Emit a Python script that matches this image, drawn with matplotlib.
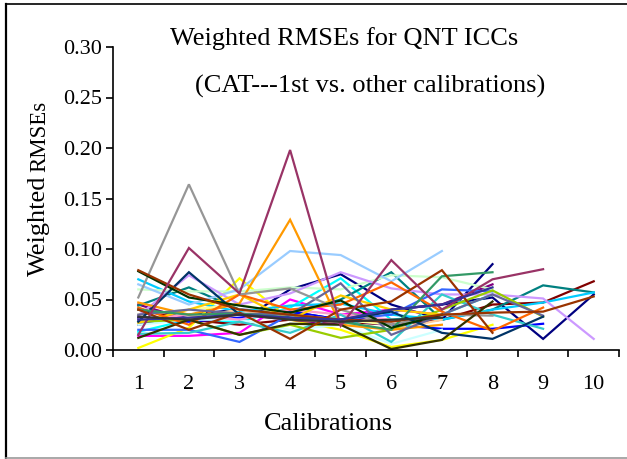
import matplotlib
matplotlib.use("Agg")
import matplotlib.pyplot as plt
from matplotlib.lines import Line2D

calibrations = [1, 2, 3, 4, 5, 6, 7, 8, 9, 10]
x_labels = ["1", "2", "3", "4", "5", "6", "7", "8", "9", "10"]
y_ticks = [0.00, 0.05, 0.10, 0.15, 0.20, 0.25, 0.30]

# one list per item (series); lengths vary
s_navy_a = [0.032, 0.030, 0.028, 0.060, 0.075, 0.045, 0.030, 0.085]
s_navy_b = [0.025, 0.035, 0.040, 0.038, 0.030, 0.040, 0.045, 0.052, 0.011, 0.055]
s_magenta = [0.014, 0.014, 0.017, 0.050, 0.035, 0.040, 0.035]
s_yellow = [0.002, 0.022, 0.071, 0.030, 0.020, 0.003, 0.010, 0.025]
s_cyan = [0.018, 0.030, 0.028, 0.042, 0.071, 0.030, 0.035, 0.055]
s_purple = [0.045, 0.030, 0.035, 0.030, 0.025, 0.040, 0.045, 0.065]
s_darkred = [0.040, 0.030, 0.025, 0.030, 0.028, 0.025, 0.030, 0.045, 0.047, 0.068]
s_teal = [0.044, 0.062, 0.040, 0.035, 0.050, 0.077, 0.030, 0.040, 0.064, 0.057]
s_blue = [0.030, 0.028, 0.032, 0.038, 0.030, 0.025, 0.021, 0.021, 0.026]
s_skyblue = [0.070, 0.048, 0.038, 0.044, 0.046, 0.035, 0.030, 0.040, 0.047, 0.057]
s_palecyan = [0.025, 0.030, 0.030, 0.020, 0.025, 0.006, 0.020]
s_palegreen = [0.060, 0.058, 0.058, 0.062, 0.060, 0.074, 0.072, 0.060]
s_paleyellow = [0.035, 0.040, 0.045, 0.035, 0.030, 0.025]
s_lightblue = [0.065, 0.045, 0.060, 0.098, 0.094, 0.068, 0.098]
s_pink = [0.030, 0.035, 0.030, 0.040, 0.035, 0.030]
s_lavender = [0.034, 0.074, 0.045, 0.056, 0.077, 0.061, 0.055, 0.055, 0.051, 0.011]
s_tan = [0.028, 0.032, 0.040, 0.030, 0.028, 0.020, 0.030]
s_royal = [0.020, 0.020, 0.008, 0.035, 0.030, 0.035, 0.060, 0.058]
s_aqua = [0.016, 0.017, 0.028, 0.017, 0.035, 0.008, 0.055, 0.035, 0.021]
s_lime = [0.028, 0.030, 0.015, 0.025, 0.012, 0.020, 0.040, 0.059, 0.033]
s_gold = [0.027, 0.040, 0.055, 0.030, 0.054, 0.040, 0.035]
s_orange = [0.047, 0.035, 0.046, 0.129, 0.025, 0.020, 0.025]
s_darkorange = [0.042, 0.025, 0.055, 0.040, 0.045, 0.067, 0.038, 0.019, 0.042]
s_bluegray = [0.035, 0.040, 0.036, 0.035, 0.066, 0.015, 0.035, 0.055, 0.034]
s_gray = [0.052, 0.164, 0.055, 0.061, 0.040, 0.025, 0.035, 0.034]
s_darkteal = [0.028, 0.077, 0.035, 0.032, 0.030, 0.038, 0.017, 0.011, 0.033]
s_seagreen = [0.040, 0.035, 0.036, 0.032, 0.028, 0.020, 0.073, 0.077]
s_darkgreen = [0.078, 0.052, 0.044, 0.037, 0.049, 0.022, 0.035]
s_olive = [0.012, 0.030, 0.015, 0.026, 0.025, 0.001, 0.010, 0.048]
s_brown_a = [0.040, 0.020, 0.037, 0.011, 0.040, 0.048, 0.079, 0.017]
s_brown_b = [0.079, 0.055, 0.040, 0.035, 0.030, 0.028, 0.035, 0.037, 0.038, 0.053]
s_plum = [0.015, 0.101, 0.056, 0.198, 0.024, 0.089, 0.040, 0.070, 0.080]
s_indigo = [0.030, 0.032, 0.035, 0.032, 0.030, 0.040, 0.045, 0.062]
s_charcoal = [0.033, 0.030, 0.035, 0.030, 0.028, 0.030, 0.032]

series = [
    (s_navy_a, "#000080"), (s_navy_b, "#000080"), (s_magenta, "#FF00FF"),
    (s_yellow, "#FFFF00"), (s_cyan, "#00FFFF"), (s_purple, "#800080"),
    (s_darkred, "#800000"), (s_teal, "#008080"), (s_blue, "#0000FF"),
    (s_skyblue, "#00CCFF"), (s_palecyan, "#CCFFFF"), (s_palegreen, "#CCFFCC"),
    (s_paleyellow, "#FFFF99"), (s_lightblue, "#99CCFF"), (s_pink, "#FF99CC"),
    (s_lavender, "#CC99FF"), (s_tan, "#FFCC99"), (s_royal, "#3366FF"),
    (s_aqua, "#33CCCC"), (s_lime, "#99CC00"), (s_gold, "#FFCC00"),
    (s_orange, "#FF9900"), (s_darkorange, "#FF6600"), (s_bluegray, "#666699"),
    (s_gray, "#969696"), (s_darkteal, "#003366"), (s_seagreen, "#339966"),
    (s_darkgreen, "#003300"), (s_olive, "#333300"), (s_brown_a, "#993300"),
    (s_brown_b, "#993300"), (s_plum, "#993366"), (s_indigo, "#333399"),
    (s_charcoal, "#333333"),
]

SERIF = ["Liberation Serif", "DejaVu Serif"]
W, H = 627, 459
fig = plt.figure(figsize=(W / 100, H / 100), dpi=100)
fig.patch.set_facecolor("white")

ax = fig.add_axes([113 / W, 1 - 350 / H, (619 - 113) / W, (350 - 47) / H])
for vals, col in series:
    ax.plot(calibrations[:len(vals)], vals, color=col, lw=1.6, solid_joinstyle="miter")

ax.set_xlim(0.5, 10.5)
ax.set_ylim(0, 0.30)
ax.set_yticks(y_ticks)
ax.set_yticklabels([f"{v:.2f}" for v in y_ticks], fontfamily=SERIF, fontsize=16)
ax.set_xticks([i + 0.5 for i in range(0, 11)])
ax.set_xticklabels([])
ax.set_xticks(calibrations, minor=True)
ax.set_xticklabels(x_labels, minor=True, fontfamily=SERIF, fontsize=16)
ax.tick_params(axis="x", which="minor", length=0, pad=18)
ax.tick_params(axis="x", which="major", length=5, width=1.2, direction="out")
ax.tick_params(axis="y", length=5, width=1.2, direction="out", pad=3)
for side in ("top", "right"):
    ax.spines[side].set_visible(False)
for side in ("left", "bottom"):
    ax.spines[side].set_linewidth(1.2)
    ax.spines[side].set_color("black")

# titles and labels
fig.text(344 / W, 1 - 45 / H, "Weighted RMSEs for QNT ICCs", fontfamily=SERIF,
         fontsize=19, ha="center", va="baseline")
fig.text(370 / W, 1 - 93 / H, "(CAT---1st vs. other calibrations)", fontfamily=SERIF,
         fontsize=19, ha="center", va="baseline")
fig.text(328 / W, 1 - 430 / H, "Calibrations", fontfamily=SERIF,
         fontsize=19, ha="center", va="baseline")
fig.text(45 / W, 1 - 226 / H, "Weighted", fontfamily=SERIF, fontsize=19,
         rotation=90, rotation_mode="anchor", ha="center", va="baseline")
fig.text(45 / W, 1 - 136 / H, "RMSEs", fontfamily=SERIF, fontsize=16.5,
         rotation=90, rotation_mode="anchor", ha="center", va="baseline")

# figure border (left, top dark; bottom gray)
fig.add_artist(Line2D([6 / W, 6 / W], [1 - 4 / H, 0], transform=fig.transFigure,
                      color="black", lw=1.6))
fig.add_artist(Line2D([6 / W, 1], [1 - 4 / H, 1 - 4 / H], transform=fig.transFigure,
                      color="black", lw=1.2))
fig.add_artist(Line2D([6 / W, 1], [1 - 458 / H, 1 - 458 / H], transform=fig.transFigure,
                      color="#999999", lw=1.2))

fig.savefig("out.png", dpi=100)
